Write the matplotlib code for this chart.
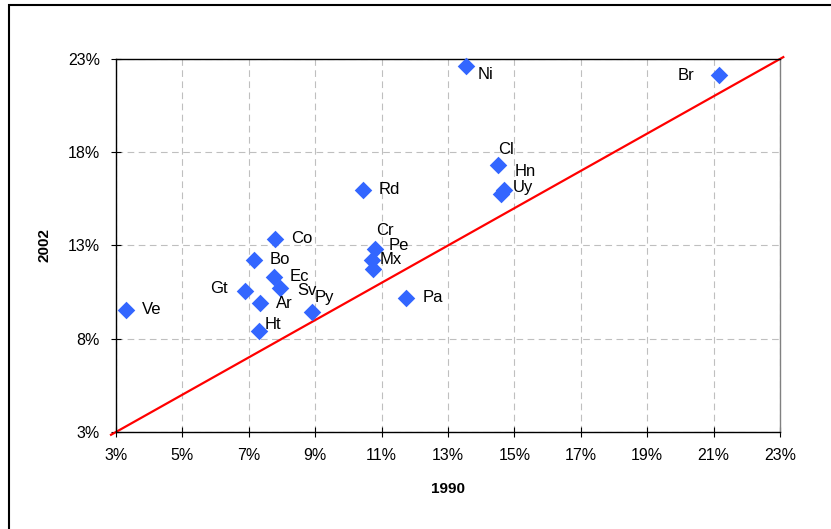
import matplotlib
matplotlib.use("Agg")
import matplotlib.pyplot as plt
from matplotlib.ticker import FuncFormatter

plt.rcParams['font.family'] = ['Liberation Sans', 'DejaVu Sans']

# Daten (in %)
paises = ['Ve', 'Gt', 'Bo', 'Co', 'Ec', 'Sv', 'Ar', 'Ht', 'Py', 'Rd',
          'Cr', 'Pe', 'Mx', 'Pa', 'Ni', 'Cl', 'Hn', 'Uy', 'Br']
v1990 = [3.3, 6.9, 7.15, 7.8, 7.75, 7.95, 7.35, 7.3, 8.9, 10.45,
         10.8, 10.75, 10.7, 11.75, 13.55, 14.5, 14.7, 14.6, 21.15]
v2002 = [9.55, 10.55, 12.2, 13.35, 11.3, 10.7, 9.9, 8.4, 9.45, 16.0,
         12.8, 11.76, 12.2, 10.2, 22.6, 17.3, 15.95, 15.75, 22.15]
# Offsets der Beschriftungen (Pixel)
label_dx = [26, -27, 26, 26, 26, 27, 24, 14, 12, 26, 10, 26, 19, 26, 19, 8, 21, 22, -33]
label_dy = [0, 3, 1, 0, 1, -2, 0, 7, 14, 0, 19, 23, 1, 0, -8, 16, 19, 7, -1]

fig = plt.figure(figsize=(8.31, 5.29), dpi=100)
ax = fig.add_axes([0.1396, 0.1834, 0.799, 0.7051])

ax.plot([2.85, 23.1], [2.85, 23.1], color='#FF0000', lw=1.6, clip_on=False, zorder=2)
ax.scatter(v1990, v2002, marker='D', s=80, color='#3366FF', zorder=3, clip_on=False,
           linewidths=0)

for name, x, y, dx, dy in zip(paises, v1990, v2002, label_dx, label_dy):
    ax.annotate(name, (x, y), xytext=(dx * 0.72, dy * 0.72), textcoords='offset points',
                ha='center', va='center', fontsize=12, zorder=4)

ax.set_xlim(3, 23)
ax.set_ylim(3, 23)
ax.set_xticks(range(3, 24, 2))
ax.set_yticks(range(3, 24, 5))
pct = FuncFormatter(lambda v, p: f'{v:.0f}%')
ax.xaxis.set_major_formatter(pct)
ax.yaxis.set_major_formatter(pct)
ax.tick_params(direction='inout', length=7, width=0.8, labelsize=11.5, pad=8)
ax.grid(True, color='#BFBFBF', linestyle=(0, (6, 4)), lw=0.8)
ax.set_axisbelow(True)
for s in ax.spines.values():
    s.set_linewidth(1.0)
ax.spines['right'].set_color('#808080')

ax.set_xlabel('1990', fontsize=11, fontweight='bold', labelpad=14)
ax.set_ylabel('2002', fontsize=11, fontweight='bold', labelpad=12)

# Rahmen um das Diagramm
fig.add_artist(plt.Rectangle((9 / 831, -0.1), 1.2, 1 - 5 / 529 + 0.1, transform=fig.transFigure,
                             fill=False, edgecolor='black', lw=1.5))

fig.savefig('out.png', dpi=100)
